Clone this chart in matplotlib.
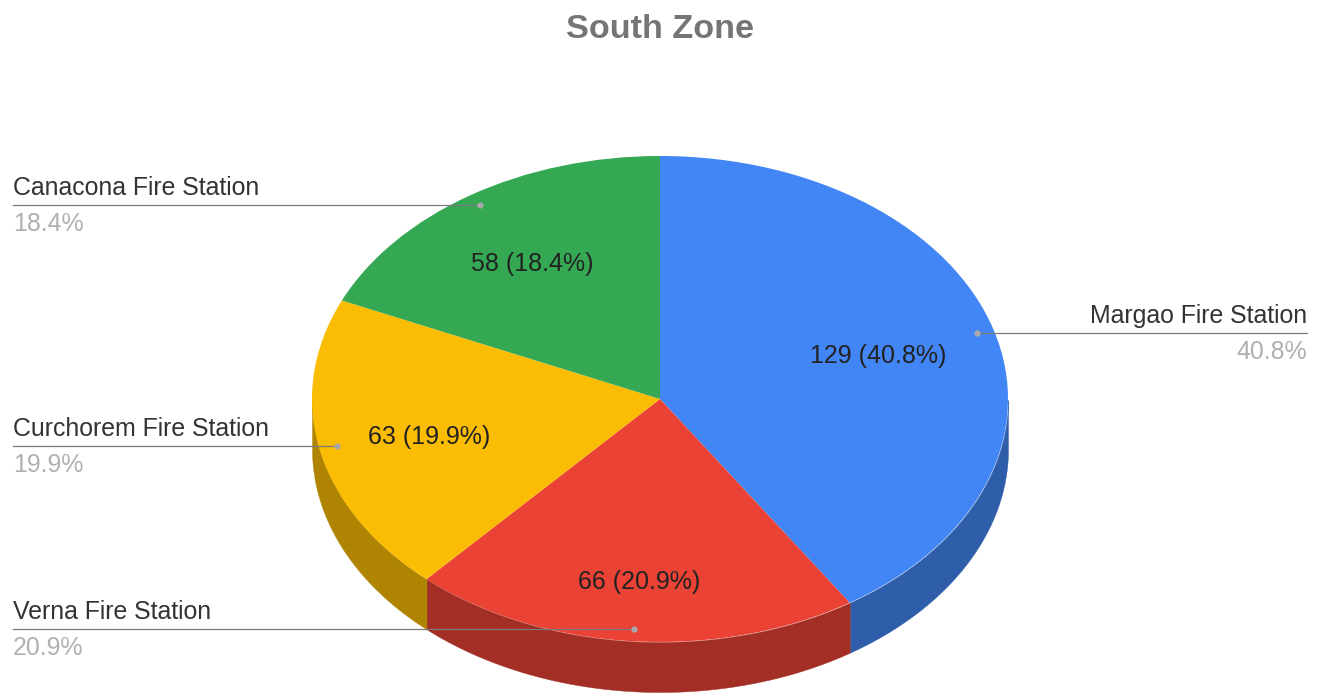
import numpy as np
import matplotlib
matplotlib.use("Agg")
import matplotlib.pyplot as plt
from matplotlib.transforms import Affine2D

W, H = 1324, 694
title = "South Zone"
stations = ["Margao Fire Station", "Verna Fire Station", "Curchorem Fire Station", "Canacona Fire Station"]
values = [129, 66, 63, 58]
top_colors = ["#4285f4", "#ea4335", "#fbbc04", "#34a853"]
side_colors = ["#2e5da9", "#a32e25", "#b08403", "#247542"]

CX, CY, RX, RY, DEPTH = 660, 399, 348, 243, 50
plt.rcParams["font.family"] = ["Liberation Sans", "DejaVu Sans"]

fig = plt.figure(figsize=(W / 100, H / 100), dpi=100, facecolor="white")
ax = fig.add_axes([0, 0, 1, 1])
px = Affine2D().scale(1, -1).translate(0, H)  # reference pixels to display

total = sum(values)
depth = DEPTH / RY
a = 90.0
for v, c in zip(values, side_colors):
    b = a - 360 * v / total
    th = np.radians(np.linspace(a, b, 400))
    x, y = np.cos(th), np.sin(th)
    mask = y <= 0
    if mask.any():
        ax.fill_between(x[mask], y[mask] - depth, y[mask], color=c, lw=0.3, zorder=1)
    a = b

ax.pie(values, colors=top_colors, startangle=90, counterclock=False, radius=1,
       wedgeprops={"linewidth": 0, "zorder": 2})
ax.set_aspect("auto")
ax.set_xlim(-CX / RX, (W - CX) / RX)
ax.set_ylim((CY - H) / RY, CY / RY)
for w in ax.patches:
    w.set_zorder(2)

ax.text(660, 29, title, transform=px, ha="center", va="center", fontsize=24.6,
        fontweight="bold", color="#757575", zorder=5)

# name-label layout: line y, line x0, x1, anchor dot x, text alignment x
layout = [
    (333, 977, 1307, 977, 1307, "right"),
    (629, 13, 634, 634, 13, "left"),
    (446, 13, 337, 337, 13, "left"),
    (205, 13, 480, 480, 13, "left"),
]
inner = [(878, 356), (639, 582), (429, 437), (532, 264)]

for name, v, (ly, x0, x1, dx, tx, ha), (ix, iy) in zip(stations, values, layout, inner):
    pct = 100 * v / total
    ax.plot([x0, x1], [ly, ly], transform=px, color="#7a7a7a", lw=0.9, zorder=4, clip_on=False)
    ax.plot([dx], [ly], transform=px, marker="o", ms=4.5, color="#a8a8a8", mew=0, zorder=4, clip_on=False)
    ax.text(tx, ly - 17, name, transform=px, ha=ha, va="center", fontsize=17.9, color="#333333", zorder=5)
    ax.text(tx, ly + 19, f"{pct:.1f}%", transform=px, ha=ha, va="center", fontsize=17.9, color="#b0b0b0", zorder=5)
    ax.text(ix, iy, f"{v} ({pct:.1f}%)", transform=px, ha="center", va="center", fontsize=18,
            color="#222222", zorder=5)

fig.savefig("out.png", dpi=100, facecolor="white")
